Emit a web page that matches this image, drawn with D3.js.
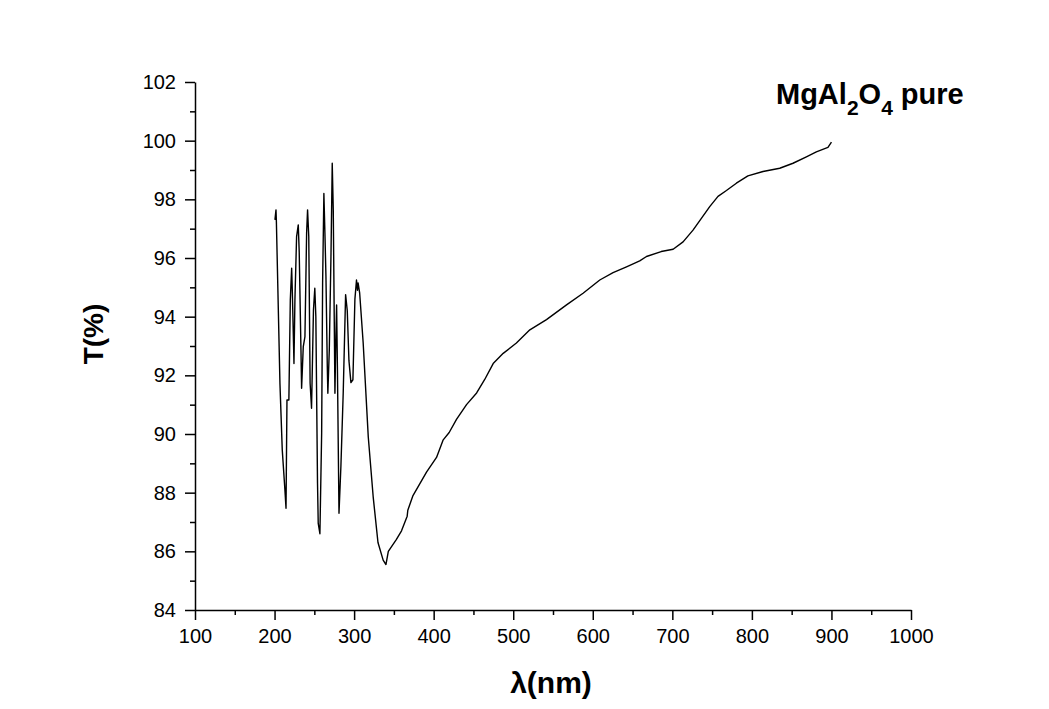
<!DOCTYPE html>
<html>
<head>
<meta charset="utf-8">
<script src="https://cdnjs.cloudflare.com/ajax/libs/d3/7.8.5/d3.min.js"></script>
<style>
  body { margin: 0; background: #fff; }
  text { font-family: Arial, "Liberation Sans", sans-serif; fill: #000; }
</style>
</head>
<body>
<div id="svgholder"></div>
<script>
// wavelength (nm) and transmittance (%)
var wavelength = [
    200.5, 201.8, 202.3, 206.8, 209.7, 213, 214.4, 215.6, 218, 219.8,
    221.5, 222.3, 224.4, 225.6, 227.7, 229.8, 231, 233.2, 234, 236.1,
    238.2, 240.3, 241.5, 243, 244.7, 246.5, 248.9, 250.6, 251.9, 254,
    254.9, 257, 259.2, 260.4, 262, 263.3, 264.6, 266.3, 267, 268.8,
    270.9, 272.5, 273.8, 275, 275.9, 277.1, 278, 279, 281, 283.4,
    286.3, 289.3, 291.4, 293.5, 296, 298.5, 301, 303, 304.2, 305,
    307, 311.4, 317.8, 324, 330, 336.5, 340, 343, 353, 359.6,
    366.7, 367.5, 374, 391, 403.6, 412, 419.5, 428.7, 441.3, 454,
    464, 474.8, 487.4, 504, 520.9, 541.8, 567, 587.8, 608.8, 625.5,
    642.4, 659, 667.5, 686, 701, 713.5, 726, 736.5, 747, 757.4,
    768, 780.5, 795, 814, 835, 851.7, 868.5, 881, 895.6, 900
]
var transmittance = [
    97.3, 97.64, 97.24, 91.7, 89.45, 88.1, 87.47, 91.16, 91.16, 94.57,
    95.65, 94.9, 92.4, 94.57, 96.73, 97.13, 96.2, 92.86, 91.56, 92.98,
    93.32, 96.85, 97.64, 96.73, 91.73, 90.88, 94.23, 94.97, 94.0, 88.32,
    86.95, 86.6, 90.03, 95.14, 98.2, 96.85, 95.37, 92.3, 91.39, 92.86,
    96.05, 99.23, 97.64, 94.0, 91.39, 93.32, 94.4, 92.3, 87.3, 88.9,
    91.4, 94.75, 94.2, 92.5, 91.75, 91.85, 94.6, 95.25, 94.9, 95.15,
    94.8, 93.1, 89.9, 87.85, 86.3, 85.7, 85.55, 86.0, 86.4, 86.7,
    87.2, 87.4, 87.9, 88.7, 89.2, 89.8, 90.05, 90.5, 91.0, 91.4,
    91.85, 92.4, 92.75, 93.1, 93.55, 93.9, 94.4, 94.8, 95.25, 95.5,
    95.7, 95.9, 96.05, 96.22, 96.3, 96.55, 96.95, 97.35, 97.75, 98.1,
    98.3, 98.55, 98.8, 98.95, 99.06, 99.23, 99.45, 99.62, 99.77, 99.95
]

var x_ticks = [100, 200, 300, 400, 500, 600, 700, 800, 900, 1000]
var x_minor = [150, 250, 350, 450, 550, 650, 750, 850, 950]
var y_ticks = [84, 86, 88, 90, 92, 94, 96, 98, 100, 102]
var y_minor = [85, 87, 89, 91, 93, 95, 97, 99, 101]

var outerWidth = 1049,
    outerHeight = 709;

var margin = {
    top: 82,
    right: 138,
    bottom: 99,
    left: 195
}
var width = outerWidth - margin.left - margin.right,
    height = outerHeight - margin.top - margin.bottom;

var svg = d3.select("#svgholder")
    .append("svg")
    .attr("width", outerWidth)
    .attr("height", outerHeight)

var g = svg.append("g")
    .attr("transform", "translate(" + margin.left + "," + margin.top + ")");

var x = d3.scaleLinear().domain([100, 1000]).range([0, width])
var y = d3.scaleLinear().domain([84, 102]).range([height, 0])

// minor ticks first, no labels
g.append("g")
    .attr("class", "minor")
    .attr("transform", "translate(0," + height + ")")
    .call(d3.axisBottom(x).tickValues(x_minor).tickSize(5).tickFormat(""))
g.append("g")
    .attr("class", "minor")
    .call(d3.axisLeft(y).tickValues(y_minor).tickSize(5).tickFormat(""))

var xAxis = g.append("g")
    .attr("transform", "translate(0," + height + ")")
    .call(d3.axisBottom(x).tickValues(x_ticks).tickFormat(d3.format("d"))
        .tickSize(10).tickSizeOuter(0).tickPadding(9))

var yAxis = g.append("g")
    .call(d3.axisLeft(y).tickValues(y_ticks).tickFormat(d3.format("d"))
        .tickSize(10).tickSizeOuter(0).tickPadding(9))

g.selectAll(".minor .domain").remove()
g.selectAll(".tick line").attr("stroke", "#000").attr("stroke-width", 1.5)
g.selectAll(".domain").attr("stroke", "#000").attr("stroke-width", 1.5)
g.selectAll(".tick text")
    .style("font-size", "20px")
    .attr("fill", "#000")

var points = wavelength.map(function(d, i) {
    return [d, transmittance[i]]
})

var line = d3.line()
    .x(function(d) { return x(d[0]); })
    .y(function(d) { return y(d[1]); })

g.append("path")
    .datum(points)
    .attr("fill", "none")
    .attr("stroke", "#000")
    .attr("stroke-width", 1.4)
    .attr("stroke-linejoin", "round")
    .attr("d", line)

// axis titles
svg.append("text")
    .attr("x", 551)
    .attr("y", 693)
    .attr("text-anchor", "middle")
    .style("font-size", "30px")
    .style("font-weight", "bold")
    .text("λ(nm)")

svg.append("text")
    .attr("transform", "translate(103,334) rotate(-90)")
    .attr("text-anchor", "middle")
    .style("font-size", "28px")
    .style("font-weight", "bold")
    .text("T(%)")

// sample label with subscripts
var label = svg.append("text")
    .attr("x", 776)
    .attr("y", 104)
    .style("font-size", "29px")
    .style("font-weight", "bold")
label.append("tspan").text("MgAl")
label.append("tspan").attr("dy", 11).style("font-size", "21px").text("2")
label.append("tspan").attr("dy", -11).text("O")
label.append("tspan").attr("dy", 11).style("font-size", "21px").text("4")
label.append("tspan").attr("dy", -11).text(" pure")
</script>
</body>
</html>
